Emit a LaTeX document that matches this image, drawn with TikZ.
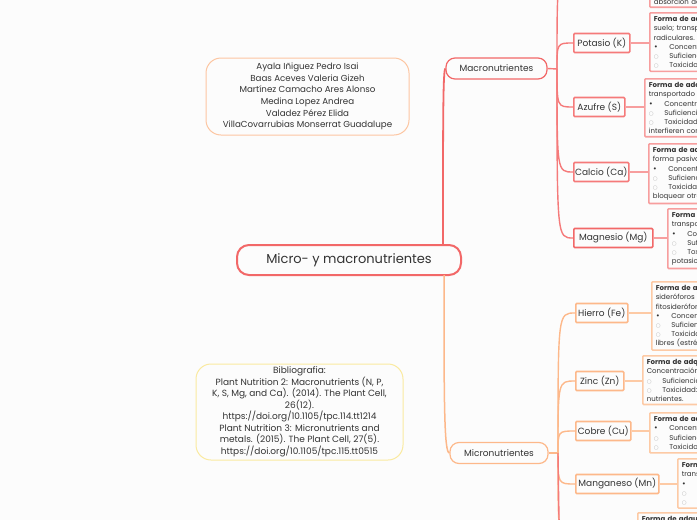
\documentclass[tikz,border=0pt]{standalone}
\usepackage{fontspec}
\setmainfont{Poppins}
\newfontfamily\symf{DejaVu Sans}
\usetikzlibrary{calc}
\definecolor{bg}{RGB}{252,252,252}
\definecolor{txt}{RGB}{51,51,51}
\definecolor{redA}{RGB}{242,104,104}
\definecolor{redB}{RGB}{245,122,122}
\definecolor{redC}{RGB}{247,158,158}
\definecolor{orA}{RGB}{253,184,138}
\definecolor{orB}{RGB}{253,202,165}
\definecolor{peach}{RGB}{252,198,162}
\definecolor{yel}{RGB}{250,234,160}
\newcommand{\bfil}{\makebox[15.5pt][l]{\symf\fontsize{7}{6}\selectfont •}}
\newcommand{\bopn}{\makebox[15.5pt][l]{\color{gray!55}\symf\fontsize{5.5}{6}\selectfont ○}}
\tikzset{
  root/.style={draw=redA, line width=2pt, rounded corners=12pt, fill=bg, minimum width=224pt, minimum height=30pt, inner sep=0pt, font=\fontsize{13}{15}\selectfont, text=txt},
  branch/.style={rounded corners=9pt, fill=bg, line width=1.2pt, minimum height=21pt, inner sep=0pt, font=\fontsize{9}{11}\selectfont, text=txt},
  leaf/.style={fill=bg, line width=1.6pt, rounded corners=1pt, minimum height=19pt, inner sep=0pt, anchor=west, font=\fontsize{9}{11}\selectfont, text=txt},
  detail/.style={fill=bg, line width=1.6pt, rounded corners=1pt, anchor=north west, align=left, text width=120pt, inner xsep=4pt, inner ysep=3pt, font=\fontsize{7}{9.2}\selectfont, text=txt},
  note/.style={draw, rounded corners=15pt, fill=bg, line width=1pt, inner sep=0pt, align=center, text=txt},
  mline/.style={draw=redB, line width=1.4pt},
  oline/.style={draw=orA, line width=1.4pt},
  mdet/.style={draw=redC, line width=2.2pt},
  odet/.style={draw=orB, line width=2.2pt}
}
\begin{document}
\begin{tikzpicture}[x=1pt,y=-1pt]
\useasboundingbox (0,0) rectangle (697,520);
\fill[bg] (0,0) rectangle (697,520);
\clip (0,0) rectangle (697,520);

% central
\node[root] (root) at (349,260) {Micro- y macronutrientes};
\coordinate (ct) at (443,245);
\coordinate (cb) at (444,275);

% branches
\node[branch, draw=redA, minimum width=101pt] (macro) at (496.5,68.5) {Macronutrientes};
\node[branch, draw=orA, minimum width=98pt] (micro) at (499,453) {Micronutrientes};
\coordinate (jM) at (557,69);
\coordinate (jm) at (558,453);

% macro children
\node[leaf, draw=redB, minimum width=56pt] (K) at (573,43) {Potasio (K)};
\node[leaf, draw=redB, minimum width=51pt] (S) at (573,107) {Azufre (S)};
\node[leaf, draw=redB, minimum width=55pt] (Ca) at (573,172) {Calcio (Ca)};
\node[leaf, draw=redA, minimum width=79pt] (Mg) at (573,238) {Magnesio (Mg)};
\coordinate (topM) at (575,-30);

% micro children
\node[leaf, draw=orA, minimum width=52pt] (Fe) at (575,313) {Hierro (Fe)};
\node[leaf, draw=orA, minimum width=48pt] (Zn) at (575,381) {Zinc (Zn)};
\node[leaf, draw=orA, minimum width=55pt] (Cu) at (575,431) {Cobre (Cu)};
\node[leaf, draw=orA, minimum width=83pt] (Mn) at (575,484) {Manganeso (Mn)};
\coordinate (bot1) at (580,548);
\coordinate (bot2) at (585,600);

% detail boxes (macro)
\node[detail, draw=redC, anchor=south west] (dN) at (649,8) {absorción de};
\node[detail, draw=redC] (dK) at (649,12) {\textbf{Forma de adquisición:}\\ suelo; transportado\\ radiculares.\\ \bfil Concentración\\ \bopn Suficiencia:\\ \bopn Toxicidad:};
\node[detail, draw=redC] (dS) at (644,78) {\textbf{Forma de adquisición:}\\ transportado vía\\ \bfil Concentración\\ \bopn Suficiencia:\\ \bopn Toxicidad:\\ interfieren con};
\node[detail, draw=redC] (dCa) at (648,143) {\textbf{Forma de adquisición:}\\ forma pasiva\\ \bfil Concentración\\ \bopn Suficiencia:\\ \bopn Toxicidad:\\ bloquear otros};
\node[detail, draw=redC] (dMg) at (667,208) {\textbf{Forma de adquisición:}\\ transportado\\ \bfil Concentración\\ \bopn Suficiencia:\\ \bopn Toxicidad:\\ potasio};

% detail boxes (micro)
\node[detail, draw=orB] (dFe) at (651,281) {\textbf{Forma de adquisición:}\\ sideróforos\\ fitosideróforos\\ \bfil Concentración\\ \bopn Suficiencia:\\ \bopn Toxicidad:\\ libres (estrés};
\node[detail, draw=orB] (dZn) at (642,355) {\textbf{Forma de adquisición:}\\ Concentración normal\\ \bopn Suficiencia:\\ \bopn Toxicidad:\\ nutrientes.};
\node[detail, draw=orB] (dCu) at (649,412) {\textbf{Forma de adquisición:}\\ \bfil Concentración\\ \bopn Suficiencia:\\ \bopn Toxicidad:};
\node[detail, draw=orB] (dMn) at (677,458) {\textbf{Forma de adquisición:}\\ transportado\\ \bfil Concentración\\ \bopn Suficiencia:\\ \bopn Toxicidad:};
\node[detail, draw=orB] (dB) at (637,512) {\textbf{Forma de adquisición:}};

% notes
\node[note, draw=peach, minimum width=203pt, minimum height=77pt, font=\fontsize{8.7}{11.7}\selectfont] (authors) at (307.5,96.5)
 {Ayala Iñiguez Pedro Isai\\Baas Aceves Valeria Gizeh\\Martínez Camacho Ares Alonso\\Medina Lopez Andrea\\Valadez Pérez Elida\\VillaCovarrubias Monserrat Guadalupe};
\node[note, draw=yel, minimum width=207pt, minimum height=96pt, font=\fontsize{9}{11.5}\selectfont] (biblio) at (299.5,412)
 {Bibliografia:\\Plant Nutrition 2: Macronutrients (N, P,\\K, S, Mg, and Ca). (2014). The Plant Cell,\\26(12).\\https://doi.org/10.1105/tpc.114.tt1214\\Plant Nutrition 3: Micronutrients and\\metals. (2015). The Plant Cell, 27(5).\\https://doi.org/10.1105/tpc.115.tt0515};

% connectors (drawn border to border)
\draw[redA, line width=1.8pt] (ct) .. controls (443,120) and (443,69) .. (macro.west);
\draw[orA, line width=1.5pt] (cb) .. controls (444,400) and (444,453) .. (micro.west);
\draw[mline] (macro.east) -- (jM);
\draw[oline] (micro.east) -- (jm);
\foreach \c in {K,S,Ca,Mg}
  \draw[mline] (jM) .. controls (jM |- \c.west) and (jM |- \c.west) .. (\c.west);
\draw[mline] (jM) .. controls (557,-30) and (557,-30) .. (topM);
\foreach \c in {Fe,Zn,Cu,Mn}
  \draw[oline] (jm) .. controls (jm |- \c.west) and (jm |- \c.west) .. (\c.west);
\draw[oline] (jm) .. controls (558,548) and (558,548) .. (bot1);
\draw[redB, line width=1.4pt] (jm) .. controls (560,600) and (560,600) .. (bot2);
\foreach \c in {K,S,Ca,Mg}
  \draw[mdet] (\c.east) -- (\c.east -| d\c.west);
\foreach \c in {Fe,Zn,Cu,Mn}
  \draw[odet] (\c.east) -- (\c.east -| d\c.west);
\end{tikzpicture}
\end{document}
